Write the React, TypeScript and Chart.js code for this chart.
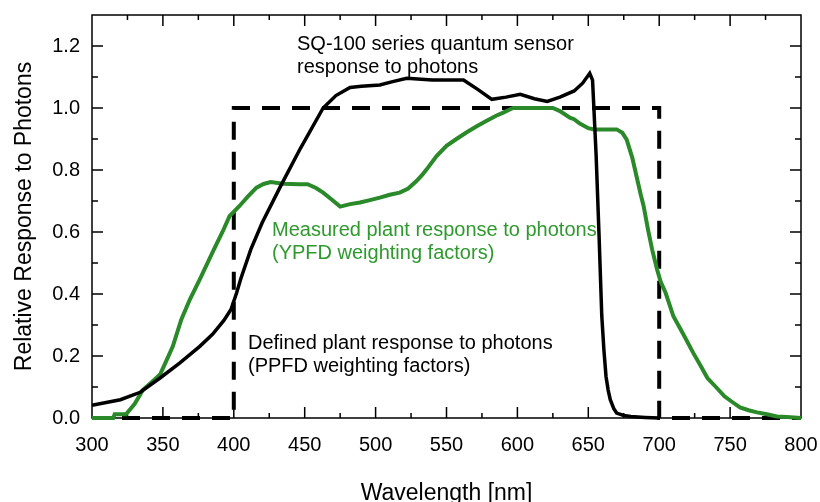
import React, { useEffect, useRef } from 'react';
import { Chart, registerables } from 'chart.js';

Chart.register(...registerables);

// ---- data ----
const sensorWavelengths = [300, 310, 320, 334, 348, 362, 376, 385, 393, 398, 402, 405, 412, 420, 433, 447, 463, 472, 482, 490, 503, 512, 522, 540, 562, 572, 582, 592, 602, 612, 621, 630, 640, 646, 651, 653, 655.5, 657.5, 659.5, 661, 662.5, 664, 665.5, 668, 670, 675, 680, 690, 700];
const sensorResponse = [0.041, 0.05, 0.059, 0.083, 0.129, 0.178, 0.231, 0.27, 0.315, 0.35, 0.404, 0.45, 0.544, 0.63, 0.748, 0.87, 1.0, 1.04, 1.066, 1.07, 1.074, 1.085, 1.096, 1.09, 1.09, 1.06, 1.028, 1.035, 1.044, 1.03, 1.021, 1.035, 1.055, 1.08, 1.112, 1.09, 0.85, 0.6, 0.33, 0.22, 0.134, 0.09, 0.059, 0.03, 0.016, 0.008, 0.005, 0.002, 0.0];

const ypfdWavelengths = [300, 315, 316, 324, 330, 336, 342, 348, 352, 357, 363, 369, 376, 386, 392, 397, 404, 410, 416, 421, 426, 435, 446, 452, 458, 463, 469, 475, 482, 489, 496, 503, 510, 517, 523, 529, 533, 536, 543, 550, 557, 564, 571, 578, 585, 590, 595, 597, 605, 615, 625, 630, 637, 640, 644, 650, 654, 662, 670, 674, 677, 681, 684, 687, 689, 692, 695, 698.5, 701, 704.5, 710, 717, 724, 729, 734, 740, 746, 752, 757, 763, 769, 776, 783, 790, 800];
const ypfdResponse = [0, 0, 0.012, 0.012, 0.045, 0.091, 0.115, 0.14, 0.18, 0.231, 0.318, 0.382, 0.447, 0.544, 0.6, 0.651, 0.684, 0.715, 0.743, 0.755, 0.761, 0.756, 0.754, 0.754, 0.742, 0.727, 0.705, 0.682, 0.69, 0.695, 0.703, 0.711, 0.72, 0.727, 0.74, 0.765, 0.785, 0.802, 0.845, 0.878, 0.9, 0.921, 0.94, 0.958, 0.975, 0.985, 0.996, 1.0, 1.0, 1.0, 1.0, 0.99, 0.969, 0.964, 0.95, 0.935, 0.931, 0.931, 0.931, 0.92, 0.899, 0.84, 0.78, 0.72, 0.684, 0.61, 0.544, 0.479, 0.44, 0.404, 0.328, 0.27, 0.21, 0.17, 0.129, 0.1, 0.07, 0.05, 0.034, 0.025, 0.018, 0.012, 0.005, 0.003, 0];

const ppfdWavelengths = [300, 400, 400, 700, 700, 800];
const ppfdResponse = [0, 0, 1, 1, 0, 0];

const xTickValues = [300, 350, 400, 450, 500, 550, 600, 650, 700, 750, 800];
const yTickValues = [0, 0.2, 0.4, 0.6, 0.8, 1.0, 1.2];

const xTitle = 'Wavelength [nm]';
const yTitle = 'Relative Response to Photons';
const sensorLabel = ['SQ-100 series quantum sensor', 'response to photons'];
const ypfdLabel = ['Measured plant response to photons', '(YPFD weighting factors)'];
const ppfdLabel = ['Defined plant response to photons', '(PPFD weighting factors)'];

const FONT = '"Liberation Sans", Arial, Helvetica, sans-serif';
const GREEN_LINE = '#2a8a2a';
const GREEN_TEXT = '#2e9a2e';

const framePlugin = {
  id: 'frame',
  beforeDatasetsDraw(chart: any) {
    const { ctx, chartArea: a, scales } = chart;
    const xs = scales.x;
    const ys = scales.y;
    ctx.save();
    ctx.strokeStyle = '#000';
    ctx.lineWidth = 1.5;
    ctx.strokeRect(a.left, a.top, a.right - a.left, a.bottom - a.top);
    ctx.beginPath();
    for (let v = 325; v < 800; v += 25) {
      const px = xs.getPixelForValue(v);
      const len = v % 50 === 0 ? 11 : 5;
      ctx.moveTo(px, a.bottom);
      ctx.lineTo(px, a.bottom - len);
      ctx.moveTo(px, a.top);
      ctx.lineTo(px, a.top + len);
    }
    for (let i = 1; i <= 12; i++) {
      const py = ys.getPixelForValue(i / 10);
      const len = i % 2 === 0 ? 11 : 6;
      ctx.moveTo(a.left, py);
      ctx.lineTo(a.left + len, py);
      ctx.moveTo(a.right, py);
      ctx.lineTo(a.right - len, py);
    }
    ctx.stroke();
    ctx.restore();
  },
  afterDraw(chart: any) {
    const { ctx, chartArea: a } = chart;
    ctx.save();
    ctx.textBaseline = 'alphabetic';
    ctx.textAlign = 'left';
    ctx.font = `20px ${FONT}`;
    ctx.fillStyle = '#000';
    ctx.fillText(sensorLabel[0], 297, 50);
    ctx.fillText(sensorLabel[1], 297, 73);
    ctx.fillText(ppfdLabel[0], 248, 349);
    ctx.fillText(ppfdLabel[1], 248, 372);
    ctx.fillStyle = GREEN_TEXT;
    ctx.fillText(ypfdLabel[0], 272, 236);
    ctx.fillText(ypfdLabel[1], 272, 259);

    ctx.fillStyle = '#000';
    ctx.font = `23px ${FONT}`;
    ctx.textAlign = 'center';
    ctx.fillText(xTitle, (a.left + a.right) / 2, 500);
    ctx.translate(31, (a.top + a.bottom) / 2);
    ctx.rotate(-Math.PI / 2);
    ctx.fillText(yTitle, 0, 0);
    ctx.restore();
  },
};

export default function App() {
  const ref = useRef<HTMLCanvasElement>(null);
  useEffect(() => {
    document.body.style.margin = '0';
    const toPts = (xs: number[], ys: number[]) => xs.map((x, i) => ({ x, y: ys[i] }));
    const chart = new Chart(ref.current as HTMLCanvasElement, {
      type: 'line',
      data: {
        datasets: [
          { data: toPts(sensorWavelengths, sensorResponse), borderColor: '#000', borderWidth: 3.5, pointRadius: 0, tension: 0, clip: 8, fill: false },
          { data: toPts(ypfdWavelengths, ypfdResponse), borderColor: GREEN_LINE, borderWidth: 4, pointRadius: 0, tension: 0, clip: 8, fill: false },
          { data: toPts(ppfdWavelengths, ppfdResponse), borderColor: '#000', borderWidth: 4, borderDash: [18, 12], pointRadius: 0, tension: 0, clip: 8, fill: false },
        ],
      } as any,
      options: {
        responsive: false,
        animation: false,
        events: [],
        layout: { padding: { top: 15, right: 19, left: 0, bottom: 0 } },
        plugins: { legend: { display: false }, tooltip: { enabled: false } },
        scales: {
          x: {
            type: 'linear',
            min: 300,
            max: 800,
            afterBuildTicks: (s: any) => { s.ticks = xTickValues.map((v) => ({ value: v })); },
            afterFit: (s: any) => { s.height = 84; s.paddingLeft = 0; s.paddingRight = 0; },
            ticks: { padding: 15, color: '#000', font: { family: FONT, size: 20 }, maxRotation: 0, autoSkip: false, callback: (v: any) => String(v) },
            grid: { display: false, drawTicks: false },
            border: { display: false },
          },
          y: {
            type: 'linear',
            min: 0,
            max: 1.3,
            afterBuildTicks: (s: any) => { s.ticks = yTickValues.map((v) => ({ value: v })); },
            afterFit: (s: any) => { s.width = 92; s.paddingTop = 0; s.paddingBottom = 0; },
            ticks: { padding: 12, color: '#000', font: { family: FONT, size: 20 }, autoSkip: false, callback: (v: any) => Number(v).toFixed(1) },
            grid: { display: false, drawTicks: false },
            border: { display: false },
          },
        },
      } as any,
      plugins: [framePlugin],
    });
    return () => chart.destroy();
  }, []);
  return (
    <div style={{ width: 820, height: 502 }}>
      <canvas ref={ref} width={820} height={502} style={{ display: 'block' }} />
    </div>
  );
}
